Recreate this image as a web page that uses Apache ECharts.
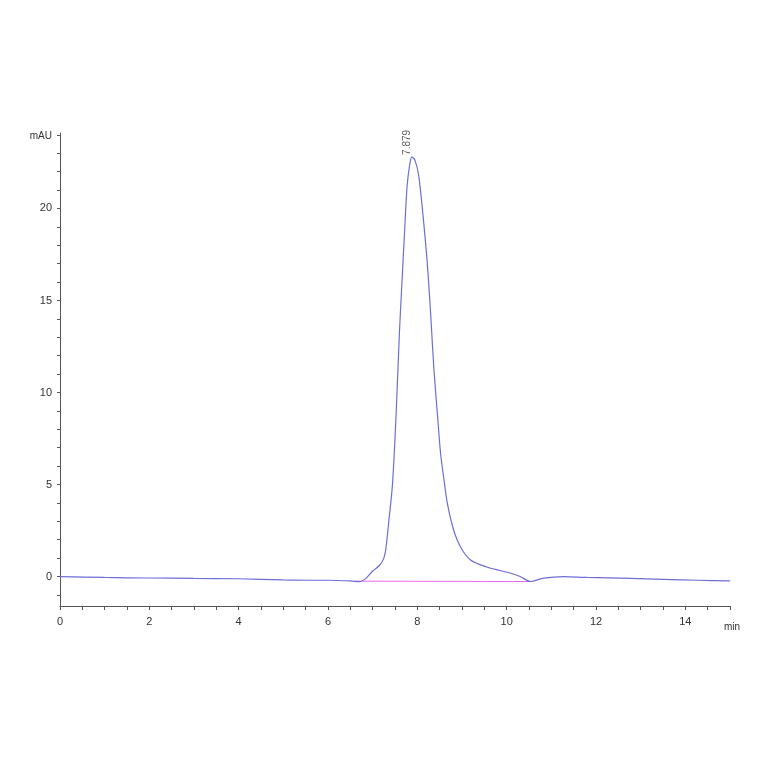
<!DOCTYPE html>
<html>
<head>
<meta charset="utf-8">
<script src="https://cdn.jsdelivr.net/npm/echarts@6/dist/echarts.min.js"></script>
<style>html,body{margin:0;background:#fff}#c{width:764px;height:764px}</style>
</head>
<body>
<div id="c"></div>
<script>
// signal trace [min, mAU]
var trace = [
  [0,0],[1,-0.05],[2,-0.08],[3,-0.1],[4,-0.12],[5,-0.18],[5.6,-0.2],[6,-0.2],[6.5,-0.24],[6.7,-0.28],
  [6.85,-0.1],[7.0,0.3],[7.15,0.6],[7.25,1.0],[7.3,1.6],[7.37,3.2],[7.44,4.9],[7.5,7.5],[7.55,10.3],
  [7.6,13.3],[7.66,16.2],[7.72,19.0],[7.77,21.2],[7.83,22.4],[7.879,22.8],[7.95,22.6],[8.03,21.8],
  [8.12,19.8],[8.22,17.1],[8.3,14.2],[8.37,11.3],[8.45,8.8],[8.52,6.7],[8.6,5.2],[8.67,4.0],[8.78,2.8],
  [8.89,2.0],[9.03,1.35],[9.19,0.9],[9.4,0.65],[9.64,0.45],[9.85,0.33],[10.09,0.18],[10.3,0.0],
  [10.54,-0.27],[10.8,-0.1],[11.28,0],[11.8,-0.05],[12.78,-0.1],[13.5,-0.15],[14.3,-0.2],[15,-0.24]
];
var baseline = [[6.6,-0.25],[10.55,-0.27]];
var peak = [[7.879,22.8]];
var xLabels = [0,2,4,6,8,10,12,14];
var yLabels = [0,5,10,15,20];

var xTicks = [], yTicks = [];
for (var i = 0; i <= 30; i++) xTicks.push(i / 2);
for (var j = -1; j <= 24; j++) yTicks.push(j);

var chart = echarts.init(document.getElementById('c'));
var axisColor = '#555';
chart.setOption({
  animation: false,
  grid: {left: 60, right: 34, top: 133, bottom: 158},
  xAxis: {
    type: 'value', min: 0, max: 15,
    axisLine: {onZero: false, lineStyle: {color: axisColor}},
    axisTick: {customValues: xTicks, length: 4, lineStyle: {color: axisColor}},
    axisLabel: {customValues: xLabels, color: '#333', fontSize: 11, fontFamily: 'Liberation Sans', margin: 10},
    splitLine: {show: false},
    name: 'min', nameLocation: 'end', nameGap: -6,
    nameTextStyle: {color: '#333', fontSize: 10, verticalAlign: 'top', padding: [16, 0, 0, 0]}
  },
  yAxis: {
    type: 'value', min: -1.6, max: 24.1,
    axisLine: {show: true, onZero: false, lineStyle: {color: axisColor}},
    axisTick: {show: true, customValues: yTicks, length: 3, lineStyle: {color: axisColor}},
    axisLabel: {customValues: yLabels, color: '#333', fontSize: 11, fontFamily: 'Liberation Sans', margin: 8},
    splitLine: {show: false},
    name: 'mAU', nameLocation: 'end', nameGap: -8,
    nameTextStyle: {color: '#333', fontSize: 10, align: 'right', padding: [0, 8, 0, 0]}
  },
  series: [
    {type: 'line', data: baseline, symbol: 'none', lineStyle: {color: '#ee66ee', width: 1}, z: 1},
    {type: 'line', data: trace, symbol: 'none', smooth: 0.3, lineStyle: {color: '#6e6ed8', width: 1.2}, z: 2},
    {type: 'scatter', data: peak, symbolSize: 0,
     label: {show: true, formatter: '7.879', position: 'top', rotate: 90, distance: 2,
             color: '#333', fontSize: 10, fontFamily: 'Liberation Sans', align: 'left'}}
  ]
});
</script>
</body>
</html>
